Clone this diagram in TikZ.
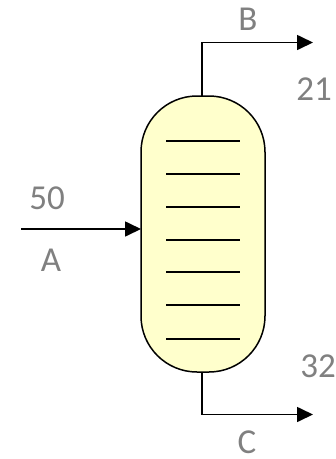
\documentclass[tikz,border=0pt]{standalone}
\usepackage{fontspec}
\setmainfont{Carlito}
\usetikzlibrary{arrows.meta}
\definecolor{colfill}{RGB}{255,255,204}
\definecolor{lab}{RGB}{128,128,128}
\tikzset{
  column/.style={draw=black,line width=1.5pt,fill=colfill,rounded corners=56pt,minimum width=124pt,minimum height=276pt,inner sep=0pt,outer sep=0pt},
  stream/.style={draw=black,line width=1.7pt,-{Triangle[length=16pt,width=15pt]}},
  tray/.style={draw=black,line width=1.3pt},
  lbl/.style={text=lab,font=\fontsize{35}{35}\selectfont,inner sep=0pt,anchor=center}
}
\begin{document}
\begin{tikzpicture}[x=1pt,y=-1pt]
\useasboundingbox (0,0) rectangle (336,459);
\node[column] (col) at (203,234) {};
\foreach \n/\yy in {1/141,2/174,3/207,4/240,5/272,6/305,7/339}{
  \coordinate (tl\n) at (166,\yy);
  \coordinate (tr\n) at (240,\yy);
  \draw[tray] (tl\n) -- (tr\n);
}
\coordinate (Ain) at (21,229);
\coordinate (Bout) at (313,42.5);
\coordinate (Cout) at (313,414.5);
\draw[stream] (Ain) -- (col.west |- Ain);
\draw[stream] ([xshift=-0.7pt]col.north) |- (Bout);
\draw[stream] ([xshift=-0.7pt]col.south) |- (Cout);
\node[lbl] (a) at (51,260) {A};
\node[lbl] (v50) at (47,198) {50};
\node[lbl] (b) at (248,19) {B};
\node[lbl] (v21) at (314,89) {21};
\node[lbl] (v32) at (318,366) {32};
\node[lbl] (c) at (247,442) {C};
\end{tikzpicture}
\end{document}
